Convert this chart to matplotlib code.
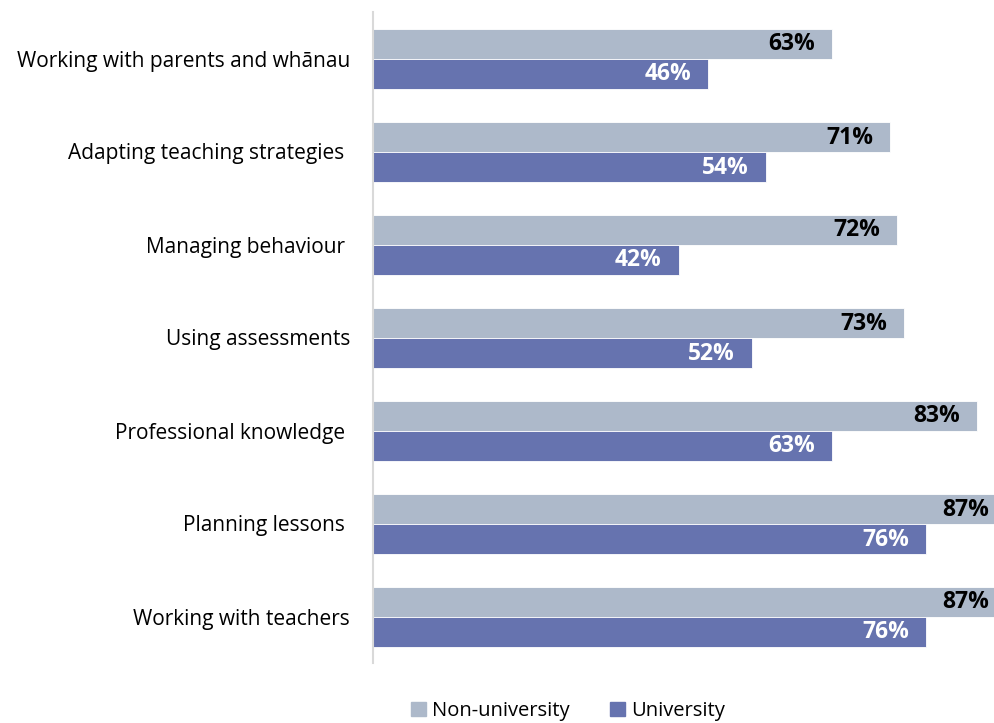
import matplotlib
matplotlib.use("Agg")
import matplotlib.pyplot as plt
from matplotlib.patches import Patch

categories = [
    "Working with parents and whānau",
    "Adapting teaching strategies ",
    "Managing behaviour ",
    "Using assessments",
    "Professional knowledge ",
    "Planning lessons ",
    "Working with teachers",
]
non_university = [63, 71, 72, 73, 83, 87, 87]
university = [46, 54, 42, 52, 63, 76, 76]

grey = "#ADB9CA"
blue = "#6673AF"
font = "Open Sans"

fig = plt.figure(figsize=(9.95, 7.23), dpi=100)
ax = fig.add_axes([373 / 995, 60 / 723, 728 / 995, 651 / 723])

h = 30 / 93
ys = list(range(len(categories)))
for i, (nu, u) in enumerate(zip(non_university, university)):
    ax.barh(i - h / 2, nu, height=h, color=grey, edgecolor="white", linewidth=0.6)
    ax.barh(i + h / 2, u, height=h, color=blue, edgecolor="white", linewidth=0.6)
    ax.annotate(f"{nu}%", (nu, i - h / 2), xytext=(-17, -1), textcoords="offset pixels",
                ha="right", va="center", fontsize=16.5, fontweight="bold",
                color="black", family=font)
    ax.annotate(f"{u}%", (u, i + h / 2), xytext=(-17, -1), textcoords="offset pixels",
                ha="right", va="center", fontsize=16.5, fontweight="bold",
                color="white", family=font)

ax.set_xlim(0, 100)
ax.set_ylim(len(categories) - 0.5, -0.5)
ax.set_yticks(ys)
ax.set_yticklabels(categories, fontsize=15, family=font)
ax.tick_params(axis="y", length=0, pad=16.5)
ax.set_xticks([])
for s in ["top", "right", "bottom"]:
    ax.spines[s].set_visible(False)
ax.spines["left"].set_color("#D9D9D9")
ax.spines["left"].set_linewidth(1.5)

handles = [Patch(color=grey, label="Non-university"), Patch(color=blue, label="University")]
fig.legend(handles=handles, loc="center", bbox_to_anchor=(568 / 995, 1 - 711 / 723),
           ncol=2, frameon=False, prop={"family": font, "size": 14.5},
           handlelength=0.75, handleheight=0.75, handletextpad=0.3, columnspacing=2.0)

fig.savefig("out.png", dpi=100)
